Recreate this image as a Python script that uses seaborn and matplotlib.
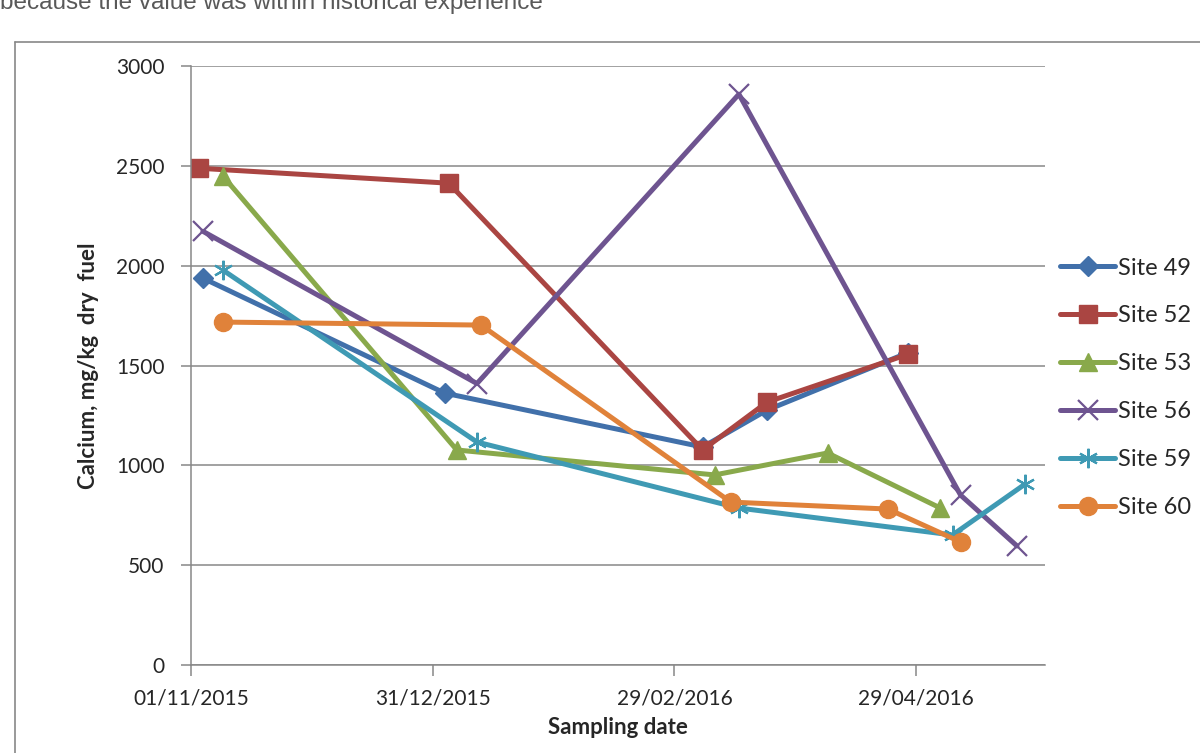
import pandas as pd
import seaborn as sns
import matplotlib.pyplot as plt
import matplotlib.dates as mdates
from matplotlib.lines import Line2D

# DATA
site_49_dates = ["2015-11-04", "2016-01-03", "2016-03-07", "2016-03-23", "2016-04-27"]
site_49_values = [1938, 1362, 1092, 1277, 1565]

site_52_dates = ["2015-11-03", "2016-01-04", "2016-03-07", "2016-03-23", "2016-04-27"]
site_52_values = [2489, 2414, 1077, 1317, 1557]

site_53_dates = ["2015-11-09", "2016-01-06", "2016-03-10", "2016-04-07", "2016-05-05"]
site_53_values = [2449, 1077, 952, 1062, 786]

site_56_dates = ["2015-11-04", "2016-01-11", "2016-03-16", "2016-05-10", "2016-05-24"]
site_56_values = [2173, 1410, 2860, 851, 596]

site_59_dates = ["2015-11-09", "2016-01-11", "2016-03-16", "2016-05-08", "2016-05-26"]
site_59_values = [1978, 1117, 786, 651, 906]

site_60_dates = ["2015-11-09", "2016-01-12", "2016-03-14", "2016-04-22", "2016-05-10"]
site_60_values = [1718, 1703, 816, 781, 616]

x_ticks = ["2015-11-01", "2015-12-31", "2016-02-29", "2016-04-29"]
x_limits = ["2015-11-01", "2016-05-31"]
y_ticks = [0, 500, 1000, 1500, 2000, 2500, 3000]

SITES = [
    ("Site 49", site_49_dates, site_49_values, "#4170AA", "D", 10, 1),
    ("Site 52", site_52_dates, site_52_values, "#AA4542", "s", 13, 1),
    ("Site 53", site_53_dates, site_53_values, "#89A94B", "^", 13, 1),
    ("Site 56", site_56_dates, site_56_values, "#6E5490", "x", 14, 1.6),
    ("Site 59", site_59_dates, site_59_values, "#3F9AB4", (6, 2, 0), 14, 1.6),
    ("Site 60", site_60_dates, site_60_values, "#E0823A", "o", 13, 1),
]

sns.set_style("white")
plt.rcParams["font.family"] = ["Lato", "DejaVu Sans"]

fig = plt.figure(figsize=(12, 7.53), dpi=100)
ax = fig.add_axes([0.159, 0.117, 0.712, 0.795])

for name, dates, values, color, marker, msize, mew in SITES:
    df = pd.DataFrame({"date": pd.to_datetime(dates), "value": values})
    sns.lineplot(
        data=df, x="date", y="value", ax=ax, color=color, label=name,
        linewidth=3.6, marker=marker, markersize=msize,
        markeredgecolor=color, markerfacecolor=color, markeredgewidth=mew,
    )

grid_color = "#878787"
ax.set_ylim(0, 3000)
ax.set_yticks(y_ticks)
ax.set_xlim(pd.to_datetime(x_limits[0]), pd.to_datetime(x_limits[1]))
ax.set_xticks(pd.to_datetime(x_ticks))
ax.xaxis.set_major_formatter(mdates.DateFormatter("%d/%m/%Y"))
ax.yaxis.grid(True, color=grid_color, linewidth=1.1)
ax.xaxis.grid(False)
ax.set_axisbelow(True)
for side in ["top", "right"]:
    ax.spines[side].set_visible(False)
for side in ["left", "bottom"]:
    ax.spines[side].set_color(grid_color)
    ax.spines[side].set_linewidth(1.1)
ax.tick_params(axis="x", bottom=True, length=8, color=grid_color, width=1.1,
               labelsize=15, pad=9)
ax.tick_params(axis="y", left=True, length=7, color=grid_color, width=1.1,
               labelsize=15, pad=12)

ax.set_xlabel("Sampling date", fontsize=16, fontweight="bold", labelpad=6)
ax.set_ylabel("Calcium, mg/kg  dry  fuel", fontsize=16, fontweight="bold", labelpad=12)

ax.legend(
    loc="center left", bbox_to_anchor=(0.866, 0.485), bbox_transform=fig.transFigure,
    frameon=False, fontsize=17, handlelength=2.3, handletextpad=0.12,
    labelspacing=1.14,
)

# chart area border and clipped caption above it
fig.add_artist(Line2D([15 / 1200, 15 / 1200], [0, 1 - 42 / 753],
                      color=grid_color, linewidth=1.2, transform=fig.transFigure))
fig.add_artist(Line2D([15 / 1200, 1], [1 - 42 / 753, 1 - 42 / 753],
                      color=grid_color, linewidth=1.2, transform=fig.transFigure))
fig.text(0.0, 1 - 9 / 753, "because the value was within historical experience",
         fontsize=17.5, color="#595959", family="Liberation Sans", va="baseline")

fig.savefig("out.png", dpi=100)
